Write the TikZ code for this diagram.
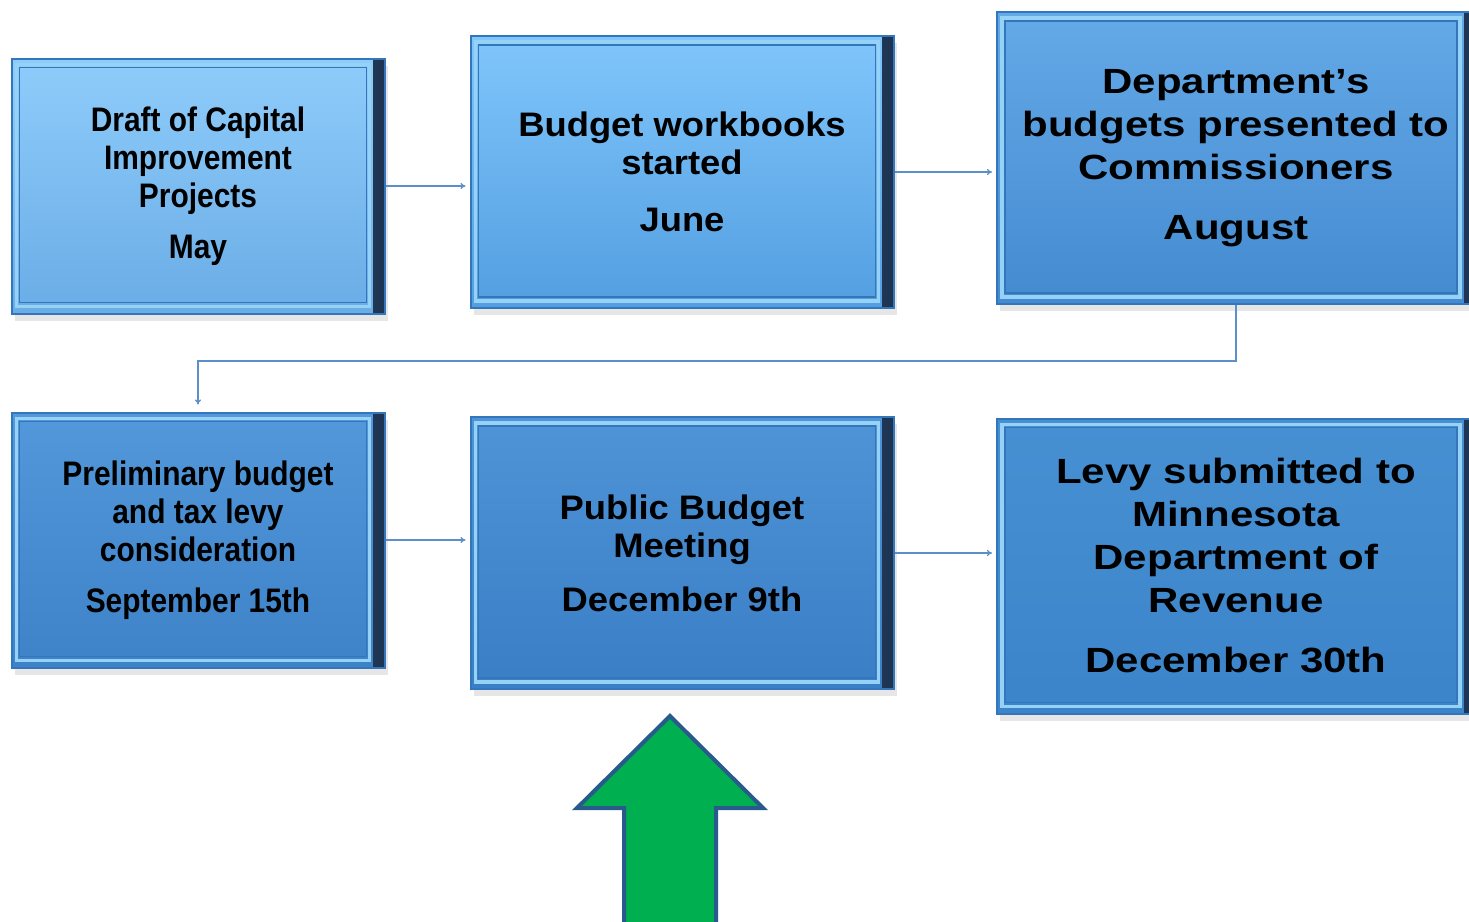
\documentclass[tikz,border=0pt]{standalone}
\usepackage{fontspec}
\setmainfont{Liberation Sans}
\newfontfamily\narrowsans{Liberation Sans}[FakeStretch=0.88]
\newfontfamily\plainsans{Liberation Sans}[FakeStretch=1.07]
\newfontfamily\widesans{Liberation Sans}[FakeStretch=1.2]
\usetikzlibrary{shadows,arrows.meta}

\definecolor{rimblue}{RGB}{52,118,188}
\definecolor{rimlight}{RGB}{150,210,246}
\definecolor{sidedark}{RGB}{28,52,82}
\definecolor{flowblue}{RGB}{92,142,202}
\definecolor{arrowgreen}{RGB}{0,176,80}
\definecolor{arrowedge}{RGB}{40,90,140}
\definecolor{capitaltop}{RGB}{142,204,250}
\definecolor{capitalbot}{RGB}{106,172,230}
\definecolor{workbookstop}{RGB}{128,198,252}
\definecolor{workbooksbot}{RGB}{82,158,224}
\definecolor{commtop}{RGB}{100,170,232}
\definecolor{commbot}{RGB}{68,138,208}
\definecolor{prelimtop}{RGB}{82,152,218}
\definecolor{prelimbot}{RGB}{62,130,200}
\definecolor{hearingtop}{RGB}{78,148,214}
\definecolor{hearingbot}{RGB}{58,126,198}
\definecolor{levytop}{RGB}{70,144,210}
\definecolor{levybot}{RGB}{60,132,202}

\newcommand{\narrowtxt}{\narrowsans\bfseries\fontsize{34}{38}\selectfont}
\newcommand{\plaintxt}{\plainsans\bfseries\fontsize{34}{38}\selectfont}
\newcommand{\widetxt}{\widesans\bfseries\fontsize{35}{43}\selectfont}

\begin{document}
\begin{tikzpicture}
[x=1pt,y=-1pt,
  stepcard/.style 2 args={rectangle,align=center,inner sep=0pt,
    top color=#1,bottom color=#2,draw=rimblue,line width=2pt,
    drop shadow={shadow xshift=3pt,shadow yshift=-7pt,opacity=0.2,fill=gray},
    path picture={
      \shade[left color=sidedark!55,right color=sidedark]
        ([xshift=-11pt]path picture bounding box.north east)
        rectangle (path picture bounding box.south east);
      \draw[rimlight,line width=3.5pt]
        ([shift={(5pt,-6pt)}]path picture bounding box.north west)
        rectangle ([shift={(-15pt,7pt)}]path picture bounding box.south east);
      \draw[rimblue,line width=1.5pt]
        ([shift={(8pt,-9pt)}]path picture bounding box.north west)
        rectangle ([shift={(-18pt,11pt)}]path picture bounding box.south east);
    }},
  flowline/.style={-{To[length=5pt,width=6pt]},flowblue,line width=1.2pt}]
\useasboundingbox (0,0) rectangle (1469,921);
\clip (0,0) rectangle (1469,921);
%% steps of the budget year
\node (capital) at (198,186) [stepcard={capitaltop}{capitalbot},font=\narrowtxt,
  minimum width=373pt,minimum height=255pt]
  {Draft of Capital\\Improvement\\Projects\\[13pt]May};
\node (workbooks) at (682,172) [stepcard={workbookstop}{workbooksbot},font=\plaintxt,
  minimum width=423pt,minimum height=272pt]
  {Budget workbooks\\started\\[19pt]June};
\node (commissioners) at (1236,158) [stepcard={commtop}{commbot},font=\widetxt,
  minimum width=478pt,minimum height=292pt]
  {Department’s\\budgets presented to\\Commissioners\\[17pt]August};
\node (preliminary) at (198,540) [stepcard={prelimtop}{prelimbot},font=\narrowtxt,
  minimum width=373pt,minimum height=255pt]
  {Preliminary budget\\and tax levy\\consideration\\[13pt]September 15th};
\node (hearing) at (682,553) [stepcard={hearingtop}{hearingbot},font=\plaintxt,
  minimum width=423pt,minimum height=272pt]
  {Public Budget\\Meeting\\[16pt]December 9th};
\node (levy) at (1236,566) [stepcard={levytop}{levybot},font=\widetxt,
  minimum width=478pt,minimum height=295pt]
  {Levy submitted to\\Minnesota\\Department of\\Revenue\\[17pt]December 30th};
%% connectors
\foreach \startnode/\endnode in {capital/workbooks, workbooks/commissioners,
  preliminary/hearing, hearing/levy}
{
  \draw[flowline,shorten >=4pt] (\startnode.east) -- (\startnode.east -| \endnode.west);
}
\coordinate (turn) at (700,361);
\draw[flowline,shorten >=7pt] (commissioners.south) |- (turn) -| (preliminary.north);
%% green arrow pointing at the meeting
\draw[fill=arrowgreen,draw=arrowedge,line width=4pt,line join=miter]
  (624,940) -- (624,808) -- (577,808) -- (670,716) -- (763,808)
  -- (716,808) -- (716,940);
\end{tikzpicture}
\end{document}
